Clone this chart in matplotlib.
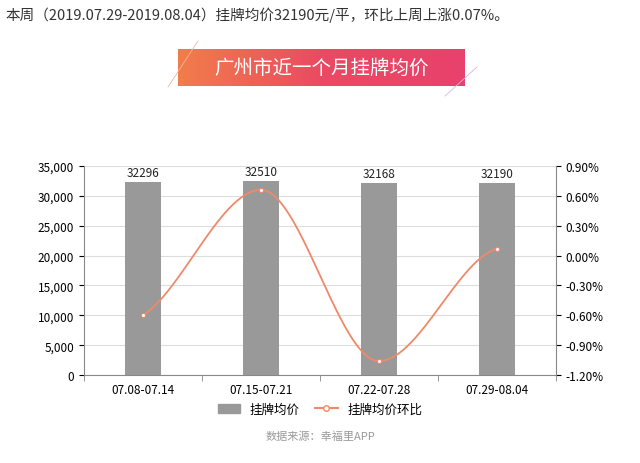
import numpy as np
import matplotlib
matplotlib.use('Agg')
import matplotlib.pyplot as plt
from matplotlib.lines import Line2D
from matplotlib.patches import Patch
from matplotlib.colors import LinearSegmentedColormap

plt.rcParams['font.family'] = ['Noto Sans CJK SC', 'DejaVu Sans']

weeks = ['07.08-07.14', '07.15-07.21', '07.22-07.28', '07.29-08.04']
price = [32296, 32510, 32168, 32190]
ratio = [-0.60, 0.66, -1.06, 0.07]


def smooth(x, y, n=60):
    # cubic hermite with flat tangents at the turning points, only for drawing
    x = np.asarray(x, float)
    y = np.asarray(y, float)
    d = np.diff(y) / np.diff(x)
    m = np.zeros(len(x))
    m[0], m[-1] = d[0] * 0.6, d[-1] * 0.3
    for i in range(1, len(x) - 1):
        if d[i - 1] * d[i] > 0:
            m[i] = 2 / (1 / d[i - 1] + 1 / d[i])
    xs, ys = [], []
    for i in range(len(x) - 1):
        h = x[i + 1] - x[i]
        t = np.linspace(0, 1, n)
        h00 = 2 * t**3 - 3 * t**2 + 1
        h10 = t**3 - 2 * t**2 + t
        h01 = -2 * t**3 + 3 * t**2
        h11 = t**3 - t**2
        xs.append(x[i] + t * h)
        ys.append(h00 * y[i] + h10 * h * m[i] + h01 * y[i + 1] + h11 * h * m[i + 1])
    return np.concatenate(xs), np.concatenate(ys)


fig = plt.figure(figsize=(6.4, 4.64), dpi=100)
fig.text(0.008, 0.968, '本周（2019.07.29-2019.08.04）挂牌均价32190元/平，环比上周上涨0.07%。',
         fontsize=10.5, color='#333333', va='center')

# banner with gradient
bax = fig.add_axes([178 / 640, 1 - 87 / 464, 287 / 640, 37 / 464])
grad = np.linspace(0, 1, 256).reshape(1, -1)
cm = LinearSegmentedColormap.from_list('b', ['#f27d4b', '#ea4a62', '#e8416c'])
bax.imshow(grad, aspect='auto', cmap=cm, extent=[0, 1, 0, 1])
bax.text(0.5, 0.5, '广州市近一个月挂牌均价', color='white', fontsize=14,
         ha='center', va='center')
bax.axis('off')
fig.add_artist(Line2D([168 / 640, 198 / 640], [1 - 88 / 464, 1 - 42 / 464],
                      color='#f3b3a0', lw=0.6))
fig.add_artist(Line2D([445 / 640, 477 / 640], [1 - 97 / 464, 1 - 68 / 464],
                      color='#d9b3e6', lw=0.6))

ax = fig.add_axes([84 / 640, 88 / 464, 472 / 640, 209 / 464])
x = np.arange(len(weeks))
ax.bar(x, price, width=0.3, color='#999999', zorder=2)
for xi, p in zip(x, price):
    ax.text(xi, p + 500, str(p), ha='center', va='bottom', fontsize=8.5, color='#222222')
ax.set_ylim(0, 35000)
ax.set_xlim(-0.5, 3.5)
ax.set_yticks(range(0, 35001, 5000))
ax.set_yticklabels([f'{v:,}' for v in range(0, 35001, 5000)], fontsize=8.5)
ax.set_xticks(x)
ax.set_xticklabels(weeks, fontsize=8.5)
ax.set_xticks(np.arange(-0.5, 4, 1), minor=True)
ax.tick_params(axis='x', which='major', length=0, pad=6)
ax.tick_params(axis='x', which='minor', length=4, color='#888888')
ax.grid(axis='y', color='#dddddd', lw=0.8, zorder=0)
for s in ['top', 'right']:
    ax.spines[s].set_visible(False)
ax.spines['left'].set_color('#888888')
ax.spines['bottom'].set_color('#888888')

ax2 = ax.twinx()
xs, ys = smooth(x, ratio)
ax2.plot(xs, ys, color='#ee8a6a', lw=1.3, zorder=3)
ax2.plot(x, ratio, 'o', ms=3, mfc='white', mec='#ee8a6a', mew=0.8, zorder=4)
ax2.set_ylim(-1.2, 0.9)
ticks = np.round(np.arange(-1.2, 0.91, 0.3), 2)
ax2.set_yticks(ticks)
ax2.set_yticklabels([f'{t:.2f}%' for t in ticks], fontsize=8.5)
for s in ['top', 'left', 'bottom']:
    ax2.spines[s].set_visible(False)
ax2.spines['right'].set_color('#888888')

handles = [Patch(color='#999999'),
           Line2D([], [], color='#ee8a6a', marker='o', mfc='white', ms=4)]
fig.legend(handles, ['挂牌均价', '挂牌均价环比'], loc='center',
           bbox_to_anchor=(0.5, 1 - 410 / 464), ncol=2, frameon=False,
           fontsize=9, handlelength=1.8, columnspacing=1.2)
fig.text(0.5, 1 - 437 / 464, '数据来源：幸福里APP', ha='center', va='center',
         fontsize=8, color='#999999')

fig.savefig('out.png', dpi=100)
